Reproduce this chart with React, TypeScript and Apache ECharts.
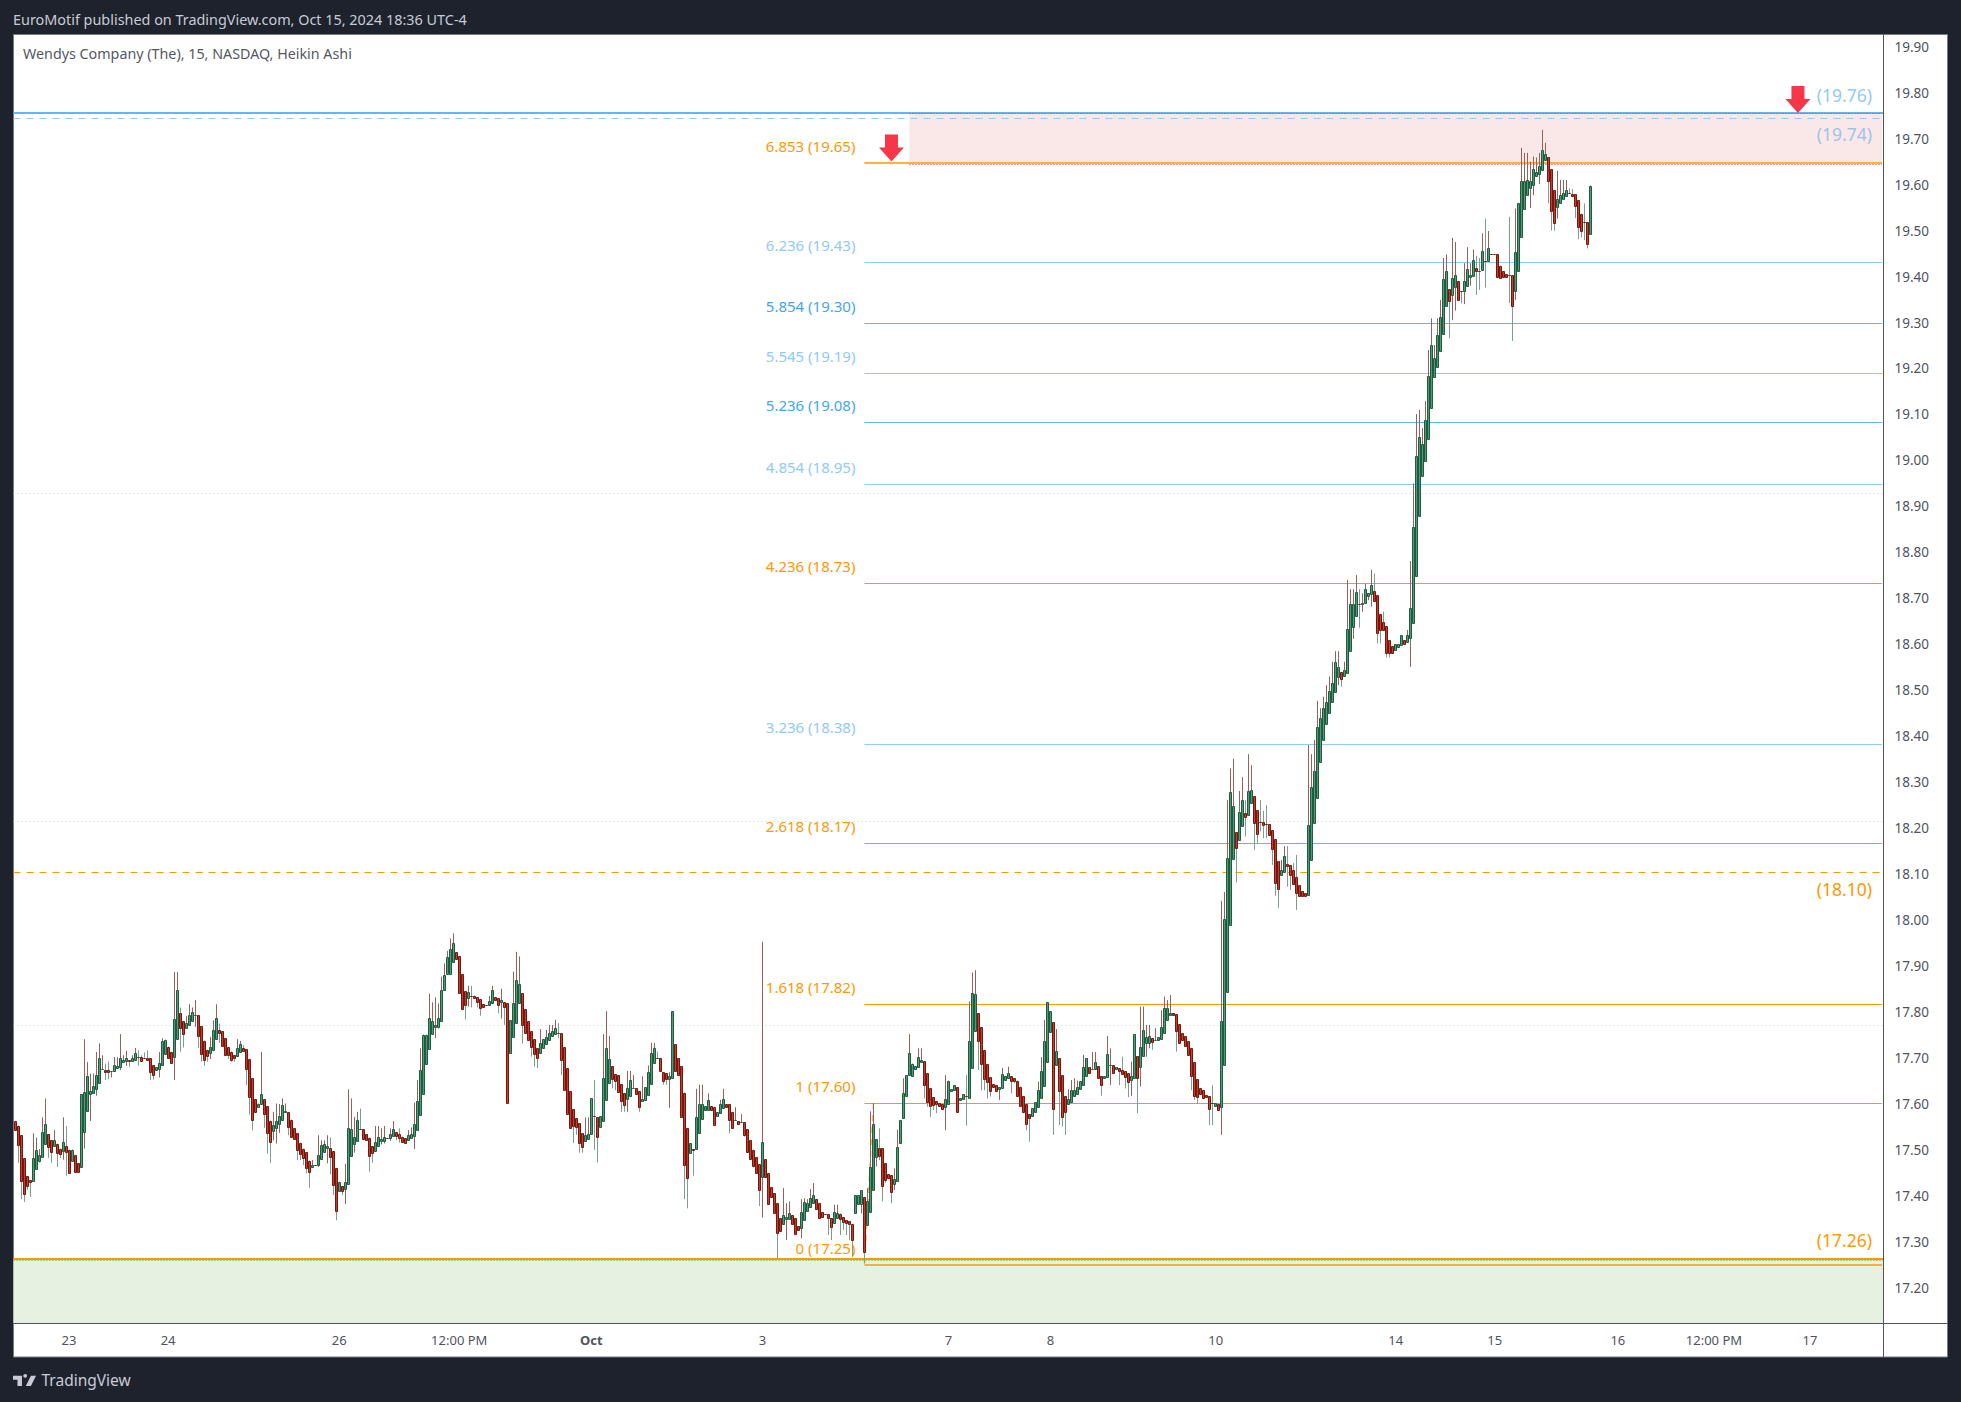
import React, { useEffect, useRef } from 'react';
import * as echarts from 'echarts';

const FONT = '"Noto Sans", sans-serif';
const ORANGE = '#ff9800';
const LIGHT_BLUE = '#90caf9';
const BLUE = '#42a5f5';

const priceTicks = [
  17.2, 17.3, 17.4, 17.5, 17.6, 17.7, 17.8, 17.9, 18.0, 18.1, 18.2, 18.3, 18.4, 18.5,
  18.6, 18.7, 18.8, 18.9, 19.0, 19.1, 19.2, 19.3, 19.4, 19.5, 19.6, 19.7, 19.8, 19.9,
];
const timeTickBars = [18, 51, 108, 148, 192, 249, 311, 345, 400, 460, 493, 534, 566, 598];
const timeTickLabels = ['23', '24', '26', '12:00 PM', 'Oct', '3', '7', '8', '10', '14', '15', '16', '12:00 PM', '17'];
const barSlots = 623;

const opens = [
  17.562,17.553,17.532,17.482,17.443,17.434,17.431,17.457,17.477,17.484,
  17.512,17.534,17.521,17.508,17.514,17.503,17.499,17.508,17.501,17.477,
  17.488,17.471,17.462,17.54,17.584,17.623,17.625,17.632,17.647,17.675,
  17.675,17.673,17.671,17.671,17.677,17.68,17.69,17.693,17.695,17.695,
  17.697,17.703,17.703,17.701,17.701,17.699,17.684,17.673,17.677,17.684,
  17.71,17.725,17.714,17.701,17.743,17.797,17.78,17.767,17.771,17.782,
  17.793,17.793,17.769,17.738,17.718,17.712,17.719,17.74,17.762,17.758,
  17.743,17.723,17.714,17.706,17.703,17.712,17.721,17.719,17.697,17.656,
  17.61,17.595,17.599,17.61,17.595,17.564,17.542,17.549,17.555,17.564,
  17.582,17.582,17.566,17.547,17.536,17.516,17.503,17.495,17.477,17.464,
  17.468,17.468,17.48,17.495,17.503,17.505,17.497,17.46,17.412,17.422,
  17.416,17.425,17.486,17.514,17.521,17.545,17.545,17.534,17.527,17.508,
  17.499,17.51,17.519,17.521,17.527,17.525,17.529,17.538,17.534,17.529,
  17.525,17.521,17.525,17.53,17.542,17.575,17.623,17.688,17.719,17.751,
  17.767,17.769,17.78,17.847,17.882,17.883,17.91,17.93,17.921,17.882,
  17.845,17.83,17.836,17.836,17.832,17.828,17.817,17.815,17.815,17.819,
  17.832,17.83,17.821,17.821,17.819,17.71,17.745,17.776,17.819,17.841,
  17.806,17.78,17.758,17.741,17.721,17.71,17.721,17.73,17.739,17.747,
  17.752,17.754,17.754,17.723,17.678,17.628,17.589,17.569,17.558,17.536,
  17.519,17.523,17.534,17.573,17.571,17.55,17.562,17.608,17.645,17.683,
  17.665,17.662,17.643,17.623,17.609,17.618,17.634,17.634,17.628,17.605,
  17.608,17.619,17.645,17.689,17.699,17.699,17.669,17.667,17.654,17.656,
  17.73,17.699,17.682,17.625,17.547,17.493,17.502,17.502,17.536,17.567,
  17.586,17.586,17.595,17.594,17.573,17.58,17.591,17.599,17.599,17.582,
  17.565,17.563,17.56,17.56,17.545,17.521,17.501,17.484,17.469,17.441,
  17.48,17.449,17.419,17.406,17.384,17.351,17.338,17.349,17.349,17.358,
  17.351,17.334,17.33,17.347,17.367,17.375,17.384,17.393,17.384,17.365,
  17.36,17.36,17.351,17.34,17.351,17.36,17.354,17.347,17.345,17.338,
  17.362,17.382,17.382,17.397,17.336,17.365,17.412,17.484,17.504,17.504,
  17.471,17.447,17.445,17.425,17.432,17.516,17.569,17.616,17.662,17.662,
  17.675,17.68,17.691,17.693,17.667,17.634,17.615,17.606,17.602,17.599,
  17.593,17.601,17.628,17.63,17.636,17.608,17.61,17.617,17.615,17.678,
  17.758,17.797,17.767,17.717,17.686,17.658,17.643,17.641,17.632,17.634,
  17.652,17.656,17.66,17.656,17.651,17.638,17.617,17.599,17.578,17.573,
  17.582,17.593,17.612,17.641,17.691,17.756,17.778,17.684,17.699,17.662,
  17.617,17.599,17.604,17.617,17.623,17.632,17.641,17.66,17.68,17.675,
  17.675,17.682,17.66,17.656,17.658,17.684,17.684,17.675,17.678,17.675,
  17.671,17.667,17.652,17.656,17.704,17.68,17.704,17.732,17.734,17.743,
  17.739,17.739,17.741,17.754,17.782,17.795,17.797,17.795,17.773,17.754,
  17.747,17.736,17.721,17.691,17.654,17.634,17.63,17.619,17.617,17.602,
  17.595,17.599,17.593,17.686,17.843,17.989,18.132,18.191,18.174,18.204,
  18.232,18.228,18.254,18.269,18.239,18.213,18.213,18.208,18.208,18.195,
  18.176,18.128,18.097,18.104,18.121,18.119,18.108,18.093,18.076,18.063,
  18.058,18.054,18.13,18.211,18.267,18.343,18.391,18.426,18.45,18.474,
  18.496,18.528,18.539,18.53,18.537,18.585,18.637,18.661,18.687,18.687,
  18.689,18.704,18.709,18.717,18.707,18.665,18.648,18.639,18.609,18.596,
  18.587,18.594,18.598,18.609,18.604,18.613,18.646,18.749,18.88,18.965,
  19.0,19.046,19.113,19.181,19.203,19.237,19.274,19.335,19.372,19.359,
  19.377,19.39,19.369,19.368,19.379,19.398,19.4,19.418,19.412,19.413,
  19.433,19.433,19.448,19.448,19.448,19.424,19.411,19.405,19.403,19.403,
  19.368,19.411,19.485,19.546,19.577,19.592,19.601,19.618,19.622,19.631,
  19.653,19.659,19.633,19.588,19.551,19.559,19.568,19.574,19.581,19.579,
  19.579,19.566,19.537,19.518,19.518,19.494,
];

const closes = [
  17.542,17.512,17.431,17.403,17.422,17.429,17.482,17.499,17.49,17.538,
  17.556,17.505,17.495,17.521,17.495,17.492,17.518,17.495,17.451,17.501,
  17.451,17.451,17.621,17.627,17.66,17.629,17.64,17.662,17.701,17.676,
  17.671,17.669,17.672,17.684,17.682,17.699,17.695,17.699,17.693,17.701,
  17.712,17.703,17.695,17.701,17.697,17.669,17.662,17.68,17.69,17.737,
  17.74,17.701,17.69,17.784,17.849,17.764,17.751,17.777,17.793,17.801,
  17.794,17.747,17.708,17.697,17.706,17.725,17.762,17.786,17.756,17.725,
  17.706,17.706,17.697,17.699,17.721,17.73,17.714,17.675,17.614,17.564,
  17.582,17.601,17.621,17.577,17.536,17.518,17.555,17.564,17.573,17.597,
  17.584,17.549,17.529,17.523,17.499,17.492,17.484,17.46,17.453,17.468,
  17.468,17.49,17.51,17.512,17.508,17.486,17.424,17.366,17.431,17.412,
  17.431,17.547,17.545,17.529,17.566,17.545,17.523,17.521,17.488,17.492,
  17.518,17.529,17.523,17.529,17.527,17.534,17.545,17.529,17.525,17.518,
  17.514,17.532,17.534,17.556,17.606,17.673,17.751,17.751,17.786,17.78,
  17.771,17.788,17.847,17.88,17.919,17.938,17.951,17.915,17.841,17.806,
  17.815,17.843,17.836,17.832,17.821,17.808,17.81,17.815,17.823,17.847,
  17.826,17.815,17.826,17.81,17.602,17.782,17.819,17.869,17.86,17.771,
  17.754,17.739,17.723,17.708,17.7,17.732,17.741,17.745,17.754,17.758,
  17.765,17.754,17.695,17.63,17.578,17.547,17.552,17.549,17.515,17.506,
  17.532,17.534,17.612,17.573,17.528,17.573,17.656,17.721,17.697,17.654,
  17.65,17.625,17.605,17.596,17.634,17.652,17.635,17.621,17.593,17.61,
  17.636,17.669,17.712,17.721,17.699,17.671,17.65,17.654,17.66,17.802,
  17.671,17.662,17.571,17.469,17.438,17.515,17.5,17.571,17.599,17.599,
  17.595,17.608,17.586,17.554,17.582,17.599,17.61,17.593,17.565,17.547,
  17.566,17.556,17.561,17.532,17.495,17.48,17.467,17.449,17.412,17.517,
  17.441,17.382,17.397,17.362,17.319,17.323,17.358,17.354,17.362,17.338,
  17.317,17.325,17.365,17.386,17.384,17.395,17.401,17.371,17.351,17.354,
  17.36,17.351,17.332,17.365,17.362,17.349,17.343,17.341,17.338,17.303,
  17.401,17.401,17.412,17.277,17.389,17.463,17.556,17.523,17.486,17.421,
  17.434,17.438,17.408,17.436,17.506,17.565,17.623,17.662,17.71,17.688,
  17.682,17.702,17.695,17.641,17.603,17.595,17.597,17.599,17.595,17.588,
  17.61,17.651,17.632,17.641,17.582,17.612,17.621,17.617,17.738,17.841,
  17.839,17.736,17.686,17.654,17.647,17.628,17.636,17.628,17.636,17.665,
  17.66,17.667,17.649,17.649,17.619,17.597,17.582,17.556,17.569,17.591,
  17.604,17.63,17.671,17.738,17.821,17.802,17.588,17.715,17.628,17.571,
  17.582,17.61,17.63,17.63,17.638,17.649,17.68,17.699,17.667,17.676,
  17.691,17.656,17.641,17.66,17.708,17.685,17.667,17.68,17.671,17.667,
  17.658,17.647,17.66,17.752,17.656,17.723,17.76,17.745,17.749,17.734,
  17.74,17.745,17.767,17.808,17.808,17.799,17.793,17.758,17.732,17.739,
  17.725,17.706,17.66,17.617,17.615,17.621,17.612,17.615,17.588,17.602,
  17.602,17.586,17.781,18.003,18.135,18.279,18.248,18.156,18.235,18.261,
  18.224,18.28,18.282,18.211,18.187,18.213,18.206,18.208,18.184,18.154,
  18.08,18.067,18.108,18.139,18.117,18.097,18.078,18.058,18.052,18.052,
  18.052,18.206,18.289,18.324,18.421,18.439,18.461,18.474,18.498,18.515,
  18.561,18.55,18.524,18.543,18.633,18.687,18.687,18.713,18.687,18.689,
  18.72,18.711,18.728,18.696,18.624,18.63,18.63,18.58,18.58,18.58,
  18.6,18.6,18.62,18.6,18.62,18.678,18.855,19.009,19.052,19.035,
  19.089,19.183,19.251,19.222,19.272,19.311,19.394,19.411,19.346,19.396,
  19.403,19.348,19.369,19.39,19.416,19.403,19.435,19.411,19.412,19.455,
  19.433,19.461,19.448,19.448,19.398,19.398,19.398,19.398,19.402,19.335,
  19.453,19.559,19.607,19.607,19.609,19.607,19.635,19.627,19.64,19.675,
  19.666,19.607,19.542,19.516,19.568,19.577,19.581,19.588,19.581,19.574,
  19.553,19.507,19.5,19.518,19.47,19.598,
];

const highs = [
  17.562,17.553,17.532,17.482,17.443,17.434,17.536,17.527,17.502,17.571,
  17.612,17.534,17.521,17.543,17.514,17.503,17.571,17.552,17.501,17.501,
  17.488,17.471,17.621,17.741,17.691,17.666,17.666,17.713,17.732,17.706,
  17.688,17.692,17.672,17.702,17.702,17.752,17.706,17.716,17.695,17.706,
  17.722,17.717,17.706,17.712,17.717,17.699,17.684,17.68,17.713,17.743,
  17.74,17.725,17.714,17.887,17.887,17.81,17.78,17.791,17.817,17.81,
  17.826,17.793,17.769,17.738,17.718,17.746,17.782,17.817,17.775,17.758,
  17.743,17.723,17.714,17.706,17.741,17.737,17.728,17.719,17.697,17.656,
  17.61,17.601,17.713,17.61,17.595,17.564,17.583,17.601,17.6,17.612,
  17.601,17.582,17.566,17.547,17.536,17.516,17.503,17.495,17.477,17.478,
  17.468,17.532,17.521,17.521,17.532,17.527,17.497,17.46,17.431,17.422,
  17.47,17.632,17.612,17.572,17.583,17.59,17.545,17.534,17.527,17.508,
  17.552,17.552,17.547,17.552,17.527,17.547,17.563,17.538,17.547,17.529,
  17.525,17.543,17.549,17.603,17.652,17.721,17.751,17.751,17.84,17.821,
  17.832,17.819,17.877,17.906,17.933,17.96,17.971,17.93,17.921,17.882,
  17.845,17.857,17.857,17.836,17.832,17.828,17.817,17.815,17.835,17.857,
  17.832,17.83,17.851,17.821,17.819,17.782,17.888,17.931,17.921,17.841,
  17.806,17.78,17.758,17.741,17.721,17.763,17.741,17.761,17.772,17.772,
  17.783,17.776,17.754,17.723,17.678,17.628,17.589,17.569,17.558,17.536,
  17.571,17.571,17.612,17.652,17.571,17.573,17.752,17.802,17.748,17.683,
  17.665,17.662,17.643,17.623,17.672,17.672,17.663,17.634,17.628,17.66,
  17.636,17.684,17.733,17.733,17.714,17.699,17.669,17.667,17.669,17.802,
  17.73,17.699,17.682,17.625,17.547,17.515,17.502,17.633,17.642,17.642,
  17.595,17.623,17.595,17.594,17.582,17.609,17.633,17.599,17.599,17.582,
  17.593,17.563,17.578,17.56,17.545,17.521,17.501,17.484,17.469,17.953,
  17.48,17.449,17.419,17.406,17.384,17.351,17.417,17.384,17.388,17.358,
  17.351,17.334,17.393,17.395,17.393,17.415,17.428,17.393,17.384,17.365,
  17.36,17.36,17.351,17.381,17.381,17.362,17.354,17.347,17.345,17.338,
  17.401,17.401,17.412,17.397,17.417,17.584,17.602,17.523,17.547,17.504,
  17.471,17.447,17.445,17.46,17.544,17.565,17.656,17.662,17.752,17.688,
  17.682,17.721,17.721,17.693,17.667,17.634,17.615,17.606,17.602,17.599,
  17.663,17.651,17.632,17.641,17.636,17.612,17.621,17.663,17.823,17.886,
  17.891,17.797,17.767,17.717,17.686,17.658,17.643,17.641,17.636,17.678,
  17.66,17.681,17.66,17.656,17.651,17.638,17.617,17.599,17.578,17.591,
  17.604,17.649,17.702,17.783,17.821,17.802,17.778,17.763,17.699,17.662,
  17.617,17.632,17.652,17.656,17.651,17.649,17.707,17.699,17.68,17.713,
  17.713,17.682,17.66,17.66,17.748,17.721,17.684,17.68,17.678,17.703,
  17.671,17.667,17.692,17.752,17.704,17.812,17.812,17.772,17.772,17.743,
  17.765,17.745,17.804,17.834,17.826,17.837,17.797,17.795,17.773,17.754,
  17.747,17.736,17.721,17.691,17.654,17.634,17.63,17.619,17.617,17.641,
  17.602,17.599,18.042,18.061,18.261,18.33,18.351,18.191,18.281,18.311,
  18.261,18.361,18.337,18.269,18.239,18.261,18.238,18.25,18.208,18.195,
  18.176,18.128,18.131,18.161,18.161,18.119,18.124,18.142,18.076,18.063,
  18.058,18.381,18.361,18.392,18.477,18.461,18.486,18.511,18.53,18.562,
  18.585,18.585,18.539,18.562,18.74,18.72,18.72,18.751,18.72,18.711,
  18.731,18.711,18.762,18.754,18.707,18.665,18.671,18.639,18.609,18.596,
  18.6,18.6,18.62,18.609,18.631,18.781,18.95,19.101,19.11,19.07,
  19.129,19.24,19.309,19.251,19.309,19.349,19.44,19.448,19.372,19.484,
  19.475,19.39,19.369,19.429,19.464,19.429,19.459,19.445,19.44,19.494,
  19.526,19.499,19.448,19.448,19.448,19.424,19.411,19.405,19.53,19.403,
  19.548,19.559,19.68,19.669,19.669,19.65,19.661,19.659,19.669,19.719,
  19.691,19.659,19.633,19.588,19.63,19.61,19.61,19.61,19.592,19.59,
  19.579,19.566,19.537,19.559,19.518,19.598,
];

const lows = [
  17.542,17.472,17.393,17.387,17.413,17.398,17.431,17.457,17.473,17.484,
  17.512,17.483,17.472,17.508,17.463,17.482,17.479,17.444,17.451,17.477,
  17.451,17.451,17.462,17.503,17.584,17.563,17.625,17.618,17.647,17.675,
  17.652,17.654,17.658,17.671,17.677,17.674,17.69,17.683,17.68,17.692,
  17.697,17.683,17.695,17.701,17.697,17.652,17.653,17.673,17.658,17.684,
  17.71,17.701,17.69,17.652,17.743,17.714,17.723,17.767,17.771,17.782,
  17.768,17.722,17.692,17.683,17.692,17.698,17.719,17.74,17.733,17.725,
  17.706,17.698,17.692,17.692,17.703,17.712,17.714,17.641,17.577,17.543,
  17.582,17.595,17.599,17.548,17.492,17.472,17.521,17.514,17.537,17.564,
  17.582,17.532,17.529,17.523,17.478,17.478,17.467,17.449,17.418,17.464,
  17.468,17.463,17.48,17.495,17.471,17.447,17.402,17.347,17.412,17.402,
  17.382,17.425,17.486,17.494,17.521,17.545,17.523,17.521,17.453,17.472,
  17.499,17.51,17.512,17.514,17.527,17.52,17.529,17.521,17.516,17.518,
  17.514,17.521,17.525,17.502,17.542,17.575,17.623,17.688,17.719,17.751,
  17.743,17.764,17.78,17.847,17.882,17.883,17.91,17.915,17.841,17.806,
  17.784,17.812,17.81,17.832,17.81,17.792,17.81,17.815,17.815,17.819,
  17.826,17.797,17.786,17.772,17.602,17.71,17.745,17.776,17.819,17.732,
  17.754,17.739,17.703,17.681,17.678,17.71,17.721,17.73,17.739,17.747,
  17.752,17.743,17.663,17.63,17.578,17.547,17.515,17.533,17.494,17.494,
  17.519,17.523,17.534,17.5,17.473,17.55,17.562,17.608,17.645,17.634,
  17.63,17.625,17.583,17.583,17.583,17.618,17.634,17.621,17.583,17.605,
  17.608,17.619,17.645,17.689,17.699,17.671,17.642,17.642,17.592,17.656,
  17.671,17.662,17.571,17.393,17.373,17.493,17.444,17.502,17.536,17.567,
  17.586,17.586,17.586,17.553,17.573,17.58,17.591,17.593,17.536,17.547,
  17.565,17.556,17.56,17.529,17.495,17.48,17.462,17.449,17.378,17.353,
  17.441,17.382,17.397,17.362,17.265,17.323,17.338,17.304,17.349,17.338,
  17.315,17.325,17.308,17.347,17.367,17.375,17.384,17.371,17.351,17.354,
  17.36,17.315,17.304,17.34,17.351,17.315,17.326,17.315,17.304,17.267,
  17.362,17.382,17.362,17.254,17.336,17.365,17.412,17.464,17.478,17.388,
  17.428,17.438,17.384,17.413,17.432,17.516,17.569,17.616,17.662,17.662,
  17.675,17.68,17.691,17.612,17.594,17.572,17.587,17.58,17.595,17.588,
  17.543,17.601,17.628,17.63,17.582,17.608,17.61,17.553,17.615,17.678,
  17.758,17.674,17.63,17.63,17.612,17.616,17.636,17.628,17.609,17.634,
  17.652,17.656,17.623,17.645,17.619,17.597,17.58,17.543,17.518,17.573,
  17.582,17.593,17.612,17.641,17.691,17.756,17.533,17.684,17.554,17.551,
  17.533,17.599,17.604,17.617,17.623,17.632,17.641,17.66,17.667,17.675,
  17.675,17.656,17.618,17.656,17.658,17.641,17.667,17.675,17.641,17.667,
  17.634,17.615,17.618,17.656,17.58,17.638,17.704,17.703,17.721,17.718,
  17.739,17.739,17.741,17.754,17.782,17.795,17.793,17.714,17.732,17.739,
  17.725,17.706,17.63,17.609,17.6,17.621,17.612,17.615,17.554,17.554,
  17.595,17.586,17.533,17.686,17.843,17.989,18.132,18.082,18.174,18.204,
  18.182,18.228,18.254,18.153,18.167,18.193,18.178,18.178,18.184,18.12,
  18.053,18.027,18.097,18.104,18.073,18.066,18.078,18.022,18.052,18.052,
  18.052,18.054,18.13,18.211,18.267,18.343,18.391,18.426,18.45,18.474,
  18.496,18.511,18.508,18.53,18.537,18.585,18.612,18.661,18.636,18.671,
  18.689,18.696,18.682,18.696,18.602,18.602,18.63,18.571,18.571,18.58,
  18.587,18.594,18.598,18.6,18.604,18.551,18.646,18.749,18.88,18.965,
  19.0,19.046,19.113,19.181,19.203,19.237,19.274,19.335,19.266,19.305,
  19.326,19.348,19.342,19.34,19.379,19.38,19.4,19.36,19.371,19.413,
  19.376,19.433,19.448,19.448,19.398,19.398,19.398,19.398,19.342,19.26,
  19.349,19.411,19.485,19.546,19.577,19.549,19.577,19.618,19.601,19.631,
  19.653,19.559,19.5,19.5,19.526,19.559,19.568,19.574,19.581,19.574,
  19.527,19.481,19.485,19.479,19.461,19.494,
];

// fibonacci levels, drawn from the low pivot to the right edge
const fibRatios = ['6.853', '6.236', '5.854', '5.545', '5.236', '4.854', '4.236', '3.236', '2.618', '1.618', '1', '0'];
const fibShown = ['19.65', '19.43', '19.30', '19.19', '19.08', '18.95', '18.73', '18.38', '18.17', '17.82', '17.60', '17.25'];
const fibPrices = [19.648, 19.431, 19.299, 19.19, 19.084, 18.948, 18.733, 18.383, 18.168, 17.818, 17.602, 17.25];
const fibLabelColors = [ORANGE, LIGHT_BLUE, BLUE, LIGHT_BLUE, BLUE, LIGHT_BLUE, ORANGE, LIGHT_BLUE, ORANGE, ORANGE, ORANGE, ORANGE];
const fibLineColors = [ORANGE, LIGHT_BLUE, '#64b5f6', LIGHT_BLUE, '#64b5f6', LIGHT_BLUE, ORANGE, LIGHT_BLUE, ORANGE, ORANGE, ORANGE, ORANGE];
const fibStartBar = 283;
const zoneStartBar = 298;

// right side price tags
const tagTexts = ['(19.76)', '(19.74)', '(18.10)', '(17.26)'];
const tagPrices = [19.756, 19.744, 18.104, 17.262];
const tagColors = [LIGHT_BLUE, '#9fc2ea', ORANGE, ORANGE];
const tagOffsets = [-18, 16, 17, -19.5];

const faintLevels = [18.929, 18.216, 17.771];
const arrowBars = [292, 594];
const arrowPrices = [19.65, 19.756];

const yMin = 17.1236;
const yMax = 19.9265;

const LOGO = 'M14 6H0v6h7v10h7V6zm14 16h-8l8-16h8l-8 16zM22 6a3 3 0 1 1-6 0 3 3 0 0 1 6 0z';
echarts.graphic.registerShape('tvLogo', echarts.graphic.extendPath(LOGO, {}));

function renderBar(params: any, api: any) {
  const i = api.value(0);
  const open = api.value(1);
  const close = api.value(2);
  const up = close > open;
  // snap to the pixel grid so the 1px border and wick stay sharp
  const x = Math.floor(api.coord([i, open])[0]) + 0.5;
  const yO = api.coord([i, open])[1];
  const yC = api.coord([i, close])[1];
  const yL = api.coord([i, api.value(3)])[1];
  const yH = api.coord([i, api.value(4)])[1];
  const top = Math.round(Math.min(yO, yC)) + 0.5;
  const h = Math.round(Math.abs(yO - yC));
  return {
    type: 'group',
    children: [
      {
        type: 'line',
        shape: { x1: x, y1: yH, x2: x, y2: yL },
        style: { stroke: up ? '#96605c' : '#7d9e8e', lineWidth: 1 },
      },
      {
        type: 'rect',
        shape: { x: x - 1, y: top, width: 2, height: h },
        style: { fill: up ? '#4f9c75' : '#cf3b26', stroke: up ? '#1f5a41' : '#6e1a12', lineWidth: 1 },
      },
    ],
  };
}

function App() {
  const chartRef = useRef<HTMLDivElement | null>(null);

  useEffect(() => {
    if (!chartRef.current) return undefined;
    document.body.style.margin = '0';

    const myChart = echarts.init(chartRef.current, null, { renderer: 'svg' });

    const categories: string[] = Array.from({ length: barSlots }, () => '');
    timeTickBars.forEach((b, k) => {
      categories[b] = timeTickLabels[k];
    });

    const fibLines = fibPrices.map((p, k) => [
      {
        coord: [fibStartBar, p],
        lineStyle: {
          color: fibLineColors[k],
          width: k === 0 || k === fibPrices.length - 1 ? 1.5 : 1,
          type: 'solid',
        },
      },
      { coord: [barSlots - 1, p] },
    ]);

    const fullLines = [
      { yAxis: 19.756, lineStyle: { color: '#64b5f6', width: 2, type: 'solid' } },
      { yAxis: 19.744, lineStyle: { color: '#90caf9', width: 1, type: [7, 6] } },
      { yAxis: 18.104, lineStyle: { color: ORANGE, width: 1.2, type: [7, 6] } },
      { yAxis: 17.264, lineStyle: { color: ORANGE, width: 2, type: 'solid' } },
      { yAxis: 17.26, lineStyle: { color: '#4caf50', width: 1, type: [1, 2] } },
      ...faintLevels.map((p) => ({ yAxis: p, lineStyle: { color: '#bcd8c6', width: 1, type: [1, 3] } })),
    ];

    const zoneEdges = [19.755, 19.645].map((p) => [
      { coord: [zoneStartBar, p], lineStyle: { color: '#f23645', width: 1, type: [1, 2] } },
      { coord: [barSlots - 1, p] },
    ]);

    const option = {
      animation: false,
      backgroundColor: '#1e222d',
      textStyle: { fontFamily: FONT },
      grid: { left: 13.5, top: 34.5, width: 1870, height: 1288.5, containLabel: false },
      xAxis: {
        type: 'category',
        data: categories,
        axisLine: { show: false },
        axisTick: { show: false },
        splitLine: { show: false },
        axisLabel: {
          interval: (_: number, v: string) => v !== '',
          margin: 10,
          fontSize: 13,
          color: '#50535e',
          fontFamily: FONT,
          formatter: (v: string) => (v === 'Oct' ? '{b|Oct}' : v),
          rich: { b: { fontWeight: 'bold', fontSize: 13, color: '#50535e', fontFamily: FONT } },
        },
      },
      yAxis: {
        type: 'value',
        position: 'right',
        min: yMin,
        max: yMax,
        axisLine: { show: false },
        axisTick: { show: false },
        splitLine: { show: false },
        axisLabel: {
          customValues: priceTicks,
          margin: 11,
          fontSize: 13.5,
          color: '#50535e',
          fontFamily: FONT,
          formatter: (v: number) => v.toFixed(2),
        },
      },
      series: [
        {
          type: 'line',
          name: 'levels',
          data: [],
          z: 1,
          silent: true,
          markArea: {
            silent: true,
            z: 0,
            precision: 4,
            data: [
              [
                { coord: [zoneStartBar, 19.756], itemStyle: { color: '#fae8e8' } },
                { coord: [barSlots - 1, 19.648] },
              ],
              [{ yAxis: 17.262, itemStyle: { color: '#e6f1e1' } }, { yAxis: yMin }],
            ],
          },
          markLine: {
            silent: true,
            z: 1,
            precision: 4,
            symbol: 'none',
            label: { show: false },
            data: [
              ...fullLines,
              ...zoneEdges,
              ...fibLines,
              [
                { coord: [fibStartBar, 17.25], lineStyle: { color: '#ffb74d', width: 1.5, type: [6, 6] } },
                { coord: [286, 17.6] },
              ],
            ],
          },
        },
        {
          type: 'custom',
          name: 'bars',
          z: 3,
          clip: true,
          renderItem: renderBar,
          encode: { x: 0, y: [1, 2, 3, 4] },
          data: opens.map((o, i) => [i, o, closes[i], lows[i], highs[i]]),
        },
        {
          type: 'custom',
          name: 'fib labels',
          z: 4,
          renderItem: (params: any, api: any) => {
            const k = params.dataIndex;
            const pt = api.coord([api.value(0), api.value(1)]);
            return {
              type: 'text',
              style: {
                text: `${fibRatios[k]} (${fibShown[k]})`,
                x: pt[0],
                y: pt[1] - 17,
                align: 'right',
                verticalAlign: 'middle',
                fill: fibLabelColors[k],
                font: `15px ${FONT}`,
              },
            };
          },
          data: fibPrices.map((p) => [280, p]),
        },
        {
          type: 'custom',
          name: 'price tags',
          z: 4,
          renderItem: (params: any, api: any) => {
            const k = params.dataIndex;
            const pt = api.coord([api.value(0), api.value(1)]);
            return {
              type: 'text',
              style: {
                text: tagTexts[k],
                x: pt[0] - 1,
                y: pt[1] + tagOffsets[k],
                align: 'right',
                verticalAlign: 'middle',
                fill: tagColors[k],
                font: `17.5px ${FONT}`,
              },
            };
          },
          data: tagPrices.map((p) => [619, p]),
        },
        {
          type: 'custom',
          name: 'arrows',
          z: 4,
          renderItem: (params: any, api: any) => {
            const pt = api.coord([api.value(0), api.value(1)]);
            const [x, y] = pt;
            return {
              type: 'polygon',
              shape: {
                points: [
                  [x, y],
                  [x - 12.5, y - 14],
                  [x - 6.5, y - 14],
                  [x - 6.5, y - 27],
                  [x + 6.5, y - 27],
                  [x + 6.5, y - 14],
                  [x + 12.5, y - 14],
                ],
              },
              style: { fill: '#f7364a' },
            };
          },
          data: arrowBars.map((b, k) => [b, arrowPrices[k]]),
        },
      ],
      graphic: [
        {
          type: 'rect',
          z: -10,
          silent: true,
          shape: { x: 13.5, y: 34.5, width: 1934, height: 1322.5 },
          style: { fill: '#ffffff', stroke: '#787b86', lineWidth: 1 },
        },
        {
          type: 'line',
          z: 10,
          silent: true,
          shape: { x1: 1883.5, y1: 34.5, x2: 1883.5, y2: 1357 },
          style: { stroke: '#50535e', lineWidth: 1 },
        },
        {
          type: 'line',
          z: 10,
          silent: true,
          shape: { x1: 13.5, y1: 1323.5, x2: 1947.5, y2: 1323.5 },
          style: { stroke: '#50535e', lineWidth: 1 },
        },
        {
          type: 'text',
          z: 10,
          x: 13,
          y: 19,
          style: {
            text: 'EuroMotif published on TradingView.com, Oct 15, 2024 18:36 UTC-4',
            fill: '#c8cbd6',
            font: `14.4px ${FONT}`,
            verticalAlign: 'middle',
          },
        },
        {
          type: 'text',
          z: 10,
          x: 23,
          y: 53.5,
          style: {
            text: 'Wendys Company (The), 15, NASDAQ, Heikin Ashi',
            fill: '#555862',
            font: `14.3px ${FONT}`,
            verticalAlign: 'middle',
          },
        },
        {
          type: 'tvLogo',
          z: 10,
          x: 13,
          y: 1372,
          scaleX: 0.64,
          scaleY: 0.64,
          style: { fill: '#c8cbd6' },
        },
        {
          type: 'text',
          z: 10,
          x: 41.5,
          y: 1380,
          style: { text: 'TradingView', fill: '#c8cbd6', font: `15.5px ${FONT}`, verticalAlign: 'middle' },
        },
      ],
    };

    myChart.setOption(option as any);

    return () => {
      myChart.dispose();
    };
  }, []);

  return (
    <div
      ref={chartRef}
      style={{ position: 'absolute', left: 0, top: 0, width: '1961px', height: '1402px' }}
    />
  );
}

export default App;
